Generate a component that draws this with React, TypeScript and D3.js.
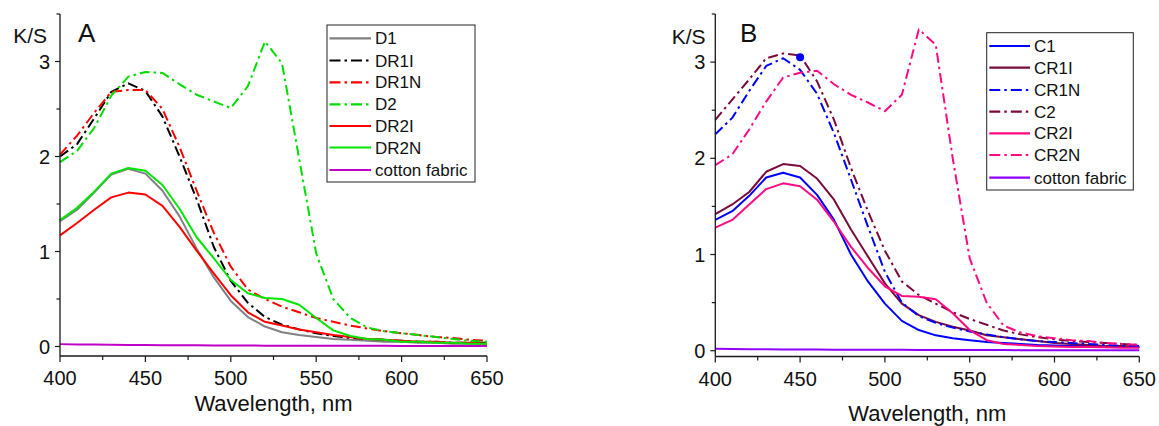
import React from "react";
import * as d3 from "d3";

const wavelengths = [400, 410, 420, 430, 440, 450, 460, 470, 480, 490, 500, 510, 520, 530, 540, 550, 560, 570, 580, 590, 600, 610, 620, 630, 640, 650];

// Panel A
const D1 = [1.32, 1.44, 1.62, 1.81, 1.87, 1.82, 1.64, 1.37, 1.03, 0.73, 0.48, 0.31, 0.21, 0.15, 0.12, 0.10, 0.08, 0.07, 0.06, 0.05, 0.05, 0.04, 0.04, 0.03, 0.03, 0.03];
const DR1I = [2.0, 2.13, 2.4, 2.68, 2.77, 2.69, 2.42, 2.0, 1.55, 1.05, 0.69, 0.46, 0.31, 0.23, 0.18, 0.14, 0.11, 0.09, 0.08, 0.07, 0.06, 0.05, 0.05, 0.04, 0.04, 0.04];
const DR1N = [2.02, 2.22, 2.46, 2.68, 2.70, 2.70, 2.50, 2.10, 1.64, 1.20, 0.84, 0.60, 0.50, 0.42, 0.36, 0.30, 0.26, 0.22, 0.19, 0.16, 0.14, 0.12, 0.10, 0.09, 0.07, 0.06];
const D2 = [1.94, 2.06, 2.30, 2.64, 2.84, 2.89, 2.88, 2.76, 2.65, 2.58, 2.51, 2.74, 3.21, 2.98, 1.98, 0.98, 0.50, 0.30, 0.20, 0.16, 0.14, 0.12, 0.10, 0.08, 0.06, 0.05];
const DR2I = [1.17, 1.30, 1.44, 1.57, 1.62, 1.60, 1.48, 1.26, 1.01, 0.77, 0.54, 0.36, 0.26, 0.22, 0.18, 0.15, 0.12, 0.10, 0.08, 0.07, 0.06, 0.05, 0.05, 0.04, 0.04, 0.03];
const DR2N = [1.33, 1.46, 1.63, 1.82, 1.88, 1.85, 1.70, 1.45, 1.15, 0.93, 0.70, 0.56, 0.51, 0.50, 0.44, 0.30, 0.17, 0.11, 0.08, 0.07, 0.05, 0.05, 0.04, 0.04, 0.03, 0.03];
const cottonA = [0.025, 0.022, 0.02, 0.018, 0.016, 0.015, 0.014, 0.013, 0.012, 0.011, 0.01, 0.01, 0.009, 0.009, 0.008, 0.008, 0.008, 0.007, 0.007, 0.007, 0.006, 0.006, 0.006, 0.005, 0.005, 0.005];

// Panel B
const C1 = [1.36, 1.45, 1.61, 1.80, 1.85, 1.80, 1.62, 1.36, 1.00, 0.72, 0.49, 0.31, 0.215, 0.16, 0.13, 0.11, 0.09, 0.08, 0.07, 0.06, 0.055, 0.05, 0.05, 0.045, 0.04, 0.04];
const CR1I = [1.42, 1.52, 1.65, 1.86, 1.94, 1.92, 1.79, 1.57, 1.26, 0.98, 0.70, 0.49, 0.37, 0.30, 0.25, 0.21, 0.16, 0.14, 0.12, 0.10, 0.08, 0.07, 0.06, 0.05, 0.05, 0.04];
const CR1N = [2.25, 2.42, 2.70, 2.96, 3.04, 2.92, 2.67, 2.26, 1.78, 1.29, 0.82, 0.50, 0.36, 0.29, 0.24, 0.20, 0.17, 0.14, 0.12, 0.10, 0.09, 0.08, 0.07, 0.06, 0.05, 0.05];
const C2 = [2.40, 2.61, 2.82, 3.04, 3.09, 3.07, 2.80, 2.40, 1.90, 1.45, 1.04, 0.72, 0.58, 0.49, 0.40, 0.33, 0.27, 0.21, 0.17, 0.14, 0.12, 0.10, 0.09, 0.08, 0.07, 0.06];
const CR2I = [1.28, 1.36, 1.52, 1.68, 1.74, 1.71, 1.57, 1.34, 1.08, 0.86, 0.67, 0.57, 0.56, 0.535, 0.39, 0.215, 0.11, 0.07, 0.06, 0.05, 0.045, 0.04, 0.04, 0.035, 0.03, 0.03];
const CR2N = [1.93, 2.04, 2.30, 2.59, 2.84, 2.89, 2.91, 2.77, 2.66, 2.58, 2.49, 2.66, 3.34, 3.18, 2.00, 0.96, 0.50, 0.26, 0.19, 0.15, 0.13, 0.11, 0.10, 0.08, 0.07, 0.06];
const cottonB = [0.02, 0.018, 0.016, 0.015, 0.014, 0.013, 0.012, 0.011, 0.01, 0.01, 0.009, 0.009, 0.008, 0.008, 0.008, 0.007, 0.007, 0.007, 0.006, 0.006, 0.006, 0.006, 0.005, 0.005, 0.005, 0.005];
const markerB = { x: [450], y: [3.05] };

const xTicks = [400, 450, 500, 550, 600, 650];
const xMinor = [425, 475, 525, 575, 625];
const yTicks = [0, 1, 2, 3];
const yMinor = [0.5, 1.5, 2.5, 3.5];

const DASHDOT = "10,4,2.5,4";
const FONT = "'Liberation Sans', Arial, sans-serif";

type Series = { name: string; values: number[]; color: string; dash?: string };

const seriesA: Series[] = [
  { name: "D1", values: D1, color: "#808080" },
  { name: "DR1I", values: DR1I, color: "#000000", dash: DASHDOT },
  { name: "DR1N", values: DR1N, color: "#ff0000", dash: DASHDOT },
  { name: "D2", values: D2, color: "#00dd00", dash: DASHDOT },
  { name: "DR2I", values: DR2I, color: "#ff0000" },
  { name: "DR2N", values: DR2N, color: "#00e600" },
  { name: "cotton fabric", values: cottonA, color: "#c000c8" },
];

const seriesB: Series[] = [
  { name: "C1", values: C1, color: "#0000ff" },
  { name: "CR1I", values: CR1I, color: "#7a0a3c" },
  { name: "CR1N", values: CR1N, color: "#0000ff", dash: DASHDOT },
  { name: "C2", values: C2, color: "#7a0a3c", dash: DASHDOT },
  { name: "CR2I", values: CR2I, color: "#ff0a82" },
  { name: "CR2N", values: CR2N, color: "#ff0a82", dash: DASHDOT },
  { name: "cotton fabric", values: cottonB, color: "#9000ff" },
];

type PanelProps = {
  left: number;
  right: number;
  top: number;
  bottom: number;
  yMin: number;
  letter: string;
  series: Series[];
  legend: { x0: number; x1: number; y0: number; y1: number; rows: number[]; lineX0: number; lineX1: number; textX: number };
  kx: number;
  ky: number;
  letterX: number;
  titleY: number;
  marker?: { x: number[]; y: number[] };
};

function Panel(p: PanelProps) {
  const x = d3.scaleLinear().domain([400, 650]).range([p.left, p.right]);
  const y = d3.scaleLinear().domain([p.yMin, 3.5]).range([p.bottom, p.top]);
  const line = d3
    .line<number>()
    .x((_, i) => x(wavelengths[i]))
    .y((d) => y(d));
  const axisColor = "#1a1a1a";
  return (
    <g>
      {p.series.map((s) => (
        <path
          key={s.name}
          d={line(s.values) || ""}
          fill="none"
          stroke={s.color}
          strokeWidth={2}
          strokeDasharray={s.dash}
          strokeLinejoin="round"
        />
      ))}
      {p.marker &&
        p.marker.x.map((mx, i) => (
          <circle key={i} cx={x(mx)} cy={y(p.marker!.y[i])} r={4} fill="#0000ff" />
        ))}
      {/* axes */}
      <line x1={p.left} x2={p.left} y1={p.top} y2={p.bottom} stroke={axisColor} strokeWidth={1.3} />
      <line x1={p.left} x2={p.right} y1={p.bottom} y2={p.bottom} stroke={axisColor} strokeWidth={1.3} />
      {yTicks.map((t) => (
        <g key={"y" + t}>
          <line x1={p.left - 5} x2={p.left} y1={y(t)} y2={y(t)} stroke={axisColor} strokeWidth={1.2} />
          <text x={p.left - 10} y={y(t) + 7} textAnchor="end" fontSize={20} fontFamily={FONT} fill="#111">
            {t}
          </text>
        </g>
      ))}
      {yMinor.map((t) => (
        <line key={"ym" + t} x1={p.left - 3.5} x2={p.left} y1={y(t)} y2={y(t)} stroke={axisColor} strokeWidth={1.2} />
      ))}
      {xTicks.map((t) => (
        <g key={"x" + t}>
          <line x1={x(t)} x2={x(t)} y1={p.bottom} y2={p.bottom + 6} stroke={axisColor} strokeWidth={1.2} />
          <text x={x(t)} y={p.bottom + 29} textAnchor="middle" fontSize={20} fontFamily={FONT} fill="#111">
            {t}
          </text>
        </g>
      ))}
      {xMinor.map((t) => (
        <line key={"xm" + t} x1={x(t)} x2={x(t)} y1={p.bottom} y2={p.bottom + 4} stroke={axisColor} strokeWidth={1.2} />
      ))}
      <text x={(p.left + p.right) / 2} y={p.titleY} textAnchor="middle" fontSize={22} fontFamily={FONT} fill="#111">
        Wavelength, nm
      </text>
      <text x={p.kx} y={p.ky} textAnchor="end" fontSize={21} fontFamily={FONT} fill="#111">
        K/S
      </text>
      <text x={p.letterX} y={42} fontSize={26} fontFamily={FONT} fill="#111">
        {p.letter}
      </text>
      {/* legend */}
      <rect
        x={p.legend.x0}
        y={p.legend.y0}
        width={p.legend.x1 - p.legend.x0}
        height={p.legend.y1 - p.legend.y0}
        fill="#fff"
        stroke="#222"
        strokeWidth={1}
      />
      {p.series.map((s, i) => (
        <g key={"lg" + s.name}>
          <line
            x1={p.legend.lineX0}
            x2={p.legend.lineX1}
            y1={p.legend.rows[i]}
            y2={p.legend.rows[i]}
            stroke={s.color}
            strokeWidth={2.2}
            strokeDasharray={s.dash ? "11,4,2.5,4" : undefined}
          />
          <text x={p.legend.textX} y={p.legend.rows[i] + 6} fontSize={17} fontFamily={FONT} fill="#111">
            {s.name}
          </text>
        </g>
      ))}
    </g>
  );
}

export default function App() {
  return (
    <svg
      width={1159}
      height={426}
      viewBox="0 0 1159 426"
      style={{ position: "absolute", left: 0, top: 0, background: "#fff" }}
    >
      <rect x={0} y={0} width={1159} height={426} fill="#fff" />
      <Panel
        left={60}
        right={487}
        top={14}
        bottom={356}
        yMin={-0.1}
        letter="A"
        series={seriesA}
        kx={47}
        ky={43}
        letterX={78}
        titleY={411}
        legend={{
          x0: 327,
          x1: 475,
          y0: 25,
          y1: 182,
          rows: [38.3, 60.5, 82.3, 104.3, 126, 147.5, 170],
          lineX0: 329.5,
          lineX1: 371,
          textX: 375,
        }}
      />
      <Panel
        left={715.3}
        right={1139.3}
        top={14}
        bottom={356.5}
        yMin={-0.06}
        letter="B"
        series={seriesB}
        kx={705.5}
        ky={44}
        letterX={740}
        titleY={421}
        marker={markerB}
        legend={{
          x0: 986.7,
          x1: 1133.3,
          y0: 32.7,
          y1: 190,
          rows: [46, 67.7, 90, 111.7, 133.3, 155, 177.7],
          lineX0: 989.3,
          lineX1: 1030,
          textX: 1034,
        }}
      />
    </svg>
  );
}
